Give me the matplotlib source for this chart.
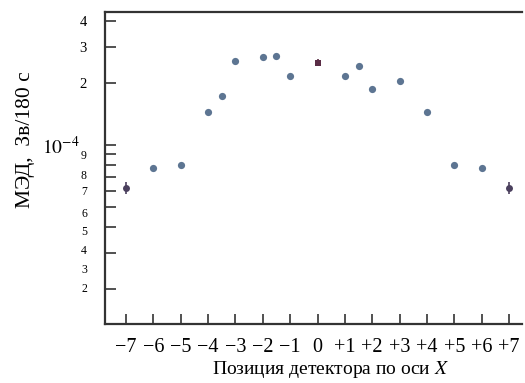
import matplotlib.pyplot as plt
from matplotlib.ticker import FixedLocator, NullFormatter

plt.rcParams['font.family'] = ['Liberation Serif', 'DejaVu Serif']
plt.rcParams['mathtext.fontset'] = 'stix'

# detector positions along X and dose rate (Sv / 180 s)
pos = [-6, -5, -4, -3.5, -3, -2, -1.5, -1, 1, 1.5, 2, 3, 4, 5, 6]
dose = [7.7e-5, 8.0e-5, 1.45e-4, 1.73e-4, 2.55e-4, 2.67e-4, 2.71e-4, 2.16e-4,
        2.16e-4, 2.41e-4, 1.86e-4, 2.03e-4, 1.45e-4, 8.0e-5, 7.7e-5]

# reference detectors (edges and centre)
edge_pos = [-7, 7]
edge_dose = [6.2e-5, 6.2e-5]
edge_err = [4e-6, 4e-6]
centre_pos = [0]
centre_dose = [2.51e-4]
centre_err = [1.0e-5]

xticks = list(range(-7, 8))
xlabels = ['\u22127', '\u22126', '\u22125', '\u22124', '\u22123', '\u22122', '\u22121',
           '0', '+1', '+2', '+3', '+4', '+5', '+6', '+7']

ytick_marks = [2e-5, 3e-5, 4e-5, 5e-5, 6e-5, 7e-5, 8e-5, 9e-5, 1e-4, 2e-4, 3e-4, 4e-4]
ylabel_vals = [2.02e-5, 2.5e-5, 3.09e-5, 3.82e-5, 4.68e-5, 6.0e-5, 7.15e-5, 9e-5,
               1e-4, 2e-4, 3e-4, 4e-4]
ylabel_txt = ['2', '3', '4', '5', '6', '7', '8', '9', '$10^{-4}$', '2', '3', '4']

fig, ax = plt.subplots(figsize=(5.25, 3.83), dpi=100)
fig.subplots_adjust(left=0.2, right=0.994, bottom=0.154, top=0.969)

ax.plot(pos, dose, 'o', color='#5d7592', markersize=5.2, markeredgewidth=0)
ax.errorbar(edge_pos, edge_dose, yerr=edge_err, fmt='o', color='#4b405e',
            markersize=5, markeredgewidth=0, elinewidth=1.2, capsize=0)
ax.errorbar(centre_pos, centre_dose, yerr=centre_err, fmt='s', color='#5a2d46',
            markersize=4.5, markeredgewidth=0, elinewidth=1.2, capsize=0)

ax.set_yscale('log')
ax.set_ylim(1.35e-5, 4.42e-4)
ax.set_xlim(-7.77, 7.47)

ax.spines['right'].set_visible(False)
for s in ['left', 'bottom', 'top']:
    ax.spines[s].set_linewidth(1.6)
    ax.spines[s].set_color('#333333')

ax.set_xticks(xticks, xlabels)
ax.tick_params(axis='x', direction='in', length=7, width=1.2, color='#333333',
               labelsize=14.5, pad=10)

ax.yaxis.remove_overlapping_locs = False
ax.set_yticks(ylabel_vals, ylabel_txt)
ax.yaxis.set_minor_locator(FixedLocator(ytick_marks))
ax.yaxis.set_minor_formatter(NullFormatter())
ax.tick_params(axis='y', which='major', length=0, pad=13)
ax.tick_params(axis='y', which='minor', direction='in', length=8, width=1.2,
               color='#333333')
for t, txt in zip(ax.yaxis.get_major_ticks(), ylabel_txt):
    if txt.startswith('$'):
        t.label1.set_fontsize(14)
        t.set_pad(18)
    elif t.get_loc() > 1.5e-4:
        t.label1.set_fontsize(10.5)
    else:
        t.label1.set_fontsize(8.5)

ax.set_xlabel('Позиция детектора по оси $\\mathit{X}$', fontsize=14)
ax.xaxis.set_label_coords(0.54, -0.112)
ax.set_ylabel('МЭД,  Зв/180 с', fontsize=15.5)
ax.yaxis.set_label_coords(-0.168, 0.59)

fig.savefig('out.png', dpi=100)
